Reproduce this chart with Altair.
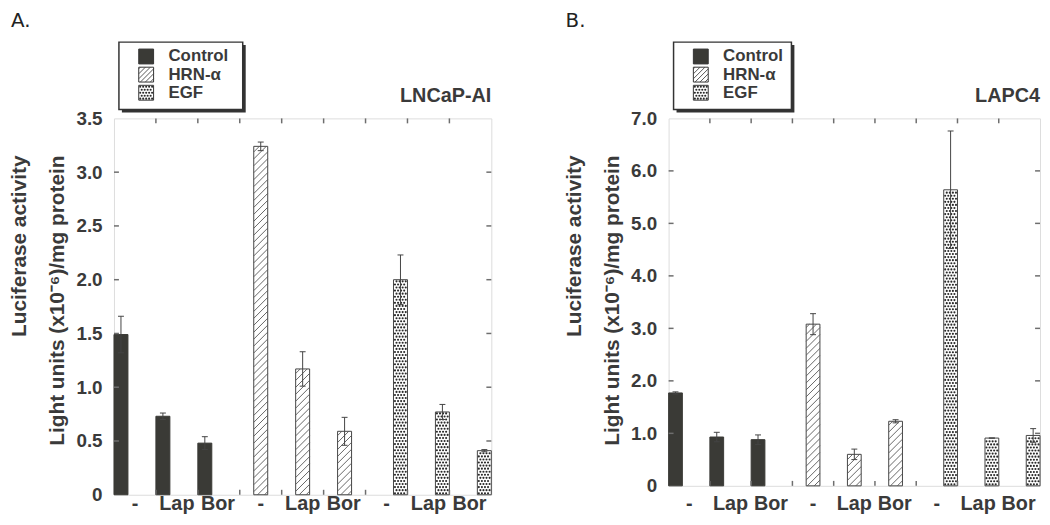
import altair as alt
import numpy as np
import pandas as pd

# ---------------- data ----------------
treatments = ["-", "Lap", "Bor"]
stimuli = ["Control", "HRN-α", "EGF"]

a_control = [1.49, 0.73, 0.48]
a_control_err = [0.17, 0.03, 0.06]
a_hrn = [3.24, 1.17, 0.59]
a_hrn_err = [0.04, 0.16, 0.13]
a_egf = [2.00, 0.77, 0.41]
a_egf_err = [0.23, 0.07, 0.01]

b_control = [1.77, 0.93, 0.88]
b_control_err = [0.02, 0.09, 0.09]
b_hrn = [3.08, 0.60, 1.23]
b_hrn_err = [0.20, 0.10, 0.03]
b_egf = [5.64, 0.91, 0.96]
b_egf_err = [1.12, 0.00, 0.13]

a_yticks = [0, 0.5, 1.0, 1.5, 2.0, 2.5, 3.0, 3.5]
b_yticks = [0, 1, 2, 3, 4, 5, 6, 7]

y_title = ["Luciferase activity", "Light units (x10\u207b\u2076)/mg protein"]

DARK = "#3a3a36"
TEXT = "#3a3a3a"
FRAME = "#6e6e6e"
FONT = "Liberation Sans"


def hatch_px(L, R, T, B, step):
    segs = []
    k = np.floor((L + T) / step) * step
    while k <= R + B:
        p0 = max(L, k - B)
        p1 = min(R, k - T)
        if p1 > p0 + 0.3:
            segs.append((p0, k - p0, p1, k - p1))
        k += step
    return segs


def dots_px(L, R, T, B, step):
    pts = []
    py = B - step / 2
    i = 0
    while py > T + 0.8:
        px = L + 1.5 + (step / 2 if i % 2 else 0)
        while px < R - 0.8:
            pts.append((px, py))
            px += step
        py -= step
        i += 1
    return pts


def make_panel(letter, cell, vals, errs, ymax, yticks, W, H, label_dy, legend_w):
    xs = W / 9.0
    ys = H / ymax
    rows = []
    for g, (stim, v, e) in enumerate(zip(stimuli, vals, errs)):
        for t, tr in enumerate(treatments):
            left = t + g * 10 / 3
            rows.append(dict(stim=stim, treat=tr, x0=left, x1=left + 1 / 3,
                             xc=left + 1 / 6, v=v[t],
                             lo=max(v[t] - e[t], 0), hi=v[t] + e[t]))
    bars = pd.DataFrame(rows)

    hatch, dots = [], []
    for r in rows:
        L, R = r["x0"] * xs, r["x1"] * xs
        T, B = H - r["v"] * ys, H
        if r["stim"] == stimuli[1]:
            for (x0, y0, x1, y1) in hatch_px(L, R, T, B, 7):
                hatch.append(dict(x=x0 / xs, y=(H - y0) / ys, x2=x1 / xs, y2=(H - y1) / ys))
        elif r["stim"] == stimuli[2]:
            for (px, py) in dots_px(L, R, T, B, 3.1):
                dots.append(dict(x=px / xs, y=(H - py) / ys))

    xsc = alt.Scale(domain=[0, 9], nice=False, zero=False)
    ysc = alt.Scale(domain=[0, ymax], nice=False, zero=False)

    yaxis = alt.Axis(
        values=yticks,
        labelExpr="datum.value == 0 ? '0' : format(datum.value, '.1f')",
        ticks=False, domain=False, grid=False,
        labelFont=FONT, labelFontSize=19, labelFontWeight="bold", labelColor=TEXT,
        labelPadding=12, labelOverlap=False,
        title=y_title, titleFont=FONT, titleFontSize=21, titleFontWeight="bold",
        titleColor=TEXT, titleAngle=270, titleAlign="right", titleBaseline="middle",
        titleX=-95, titleY=37, titleLineHeight=38,
    )

    def Y(field):
        return alt.Y(field, scale=ysc, axis=yaxis)

    bar_layer = alt.Chart(bars).mark_rect(strokeWidth=1).encode(
        x=alt.X("x0:Q", scale=xsc, axis=None),
        x2="x1",
        y=Y("v:Q"),
        y2=alt.datum(0),
        fill=alt.Fill("stim:N", scale=alt.Scale(domain=stimuli, range=[DARK, "white", "white"]), legend=None),
        stroke=alt.Stroke("stim:N", scale=alt.Scale(domain=stimuli, range=[DARK, "#444444", "#444444"]), legend=None),
    )

    hatch_layer = alt.Chart(pd.DataFrame(hatch)).mark_rule(color="#555555", strokeWidth=0.9).encode(
        x=alt.X("x:Q", scale=xsc, axis=None), y=Y("y:Q"),
        x2="x2", y2="y2")

    dot_layer = alt.Chart(pd.DataFrame(dots)).mark_circle(size=4.6, color="#2a2a2a", opacity=1).encode(
        x=alt.X("x:Q", scale=xsc, axis=None), y=Y("y:Q"))

    err_layer = alt.Chart(bars).mark_rule(color="#444444", strokeWidth=1).encode(
        x=alt.X("xc:Q", scale=xsc, axis=None), y=Y("lo:Q"), y2="hi")
    caps = pd.concat([bars[["xc", "lo"]].rename(columns={"lo": "e"}),
                      bars[["xc", "hi"]].rename(columns={"hi": "e"})])
    cap_layer = alt.Chart(caps).mark_tick(orient="horizontal", size=6, thickness=1, color="#444444", opacity=1).encode(
        x=alt.X("xc:Q", scale=xsc, axis=None), y=Y("e:Q"))

    ytk = pd.DataFrame({"v": yticks[1:-1]})
    xtk = pd.DataFrame({"v": list(range(1, 9))})
    tick_style = dict(color=FRAME, strokeWidth=1.5)
    left_ticks = alt.Chart(ytk).mark_rule(**tick_style).encode(
        x=alt.value(0), x2=alt.value(5), y=Y("v:Q"))
    right_ticks = alt.Chart(ytk).mark_rule(**tick_style).encode(
        x=alt.value(W - 5), x2=alt.value(W), y=Y("v:Q"))
    top_ticks = alt.Chart(xtk).mark_rule(**tick_style).encode(
        x=alt.X("v:Q", scale=xsc, axis=None), y=alt.value(0), y2=alt.value(5))
    bottom_ticks = alt.Chart(xtk).mark_rule(**tick_style).encode(
        x=alt.X("v:Q", scale=xsc, axis=None), y=alt.value(H - 5), y2=alt.value(H))

    lab = pd.DataFrame([dict(t=tr, x=g * 3 + t + 0.5 - (0.02 if tr == "Bor" else 0))
                        for g in range(3) for t, tr in enumerate(treatments)])
    label_layer = alt.Chart(lab).mark_text(font=FONT, fontSize=20, fontWeight="bold", color=TEXT,
                                           baseline="middle").encode(
        x=alt.X("x:Q", scale=xsc, axis=None), y=alt.value(H + label_dy), text="t:N")

    # legend drawn as marks in pixel space above the plot
    one = pd.DataFrame({"a": [0]})
    lx0, ly0, ly1 = 5, -77, -9
    shadow = alt.Chart(one).mark_rect(color="#333333").encode(
        x=alt.value(lx0 + 3), x2=alt.value(lx0 + legend_w + 3), y=alt.value(ly0 + 3), y2=alt.value(ly1 + 3))
    box = alt.Chart(one).mark_rect(fill="white", stroke="#333333", strokeWidth=1.5).encode(
        x=alt.value(lx0), x2=alt.value(lx0 + legend_w), y=alt.value(ly0), y2=alt.value(ly1))
    centers = [-62.5 + i * 18.3 for i in range(3)]
    sw = pd.DataFrame(dict(stim=stimuli, x=[25] * 3, x2=[40] * 3,
                           y=[c - 7.5 for c in centers], y2=[c + 7.5 for c in centers],
                           fill=[DARK, "white", "white"], tx=[55] * 3, ty=centers))
    swatch = alt.Chart(sw).mark_rect(stroke="#333333", strokeWidth=1).encode(
        x=alt.X("x:Q", scale=None), x2="x2", y=alt.Y("y:Q", scale=None), y2="y2",
        fill=alt.Fill("fill:N", scale=None))
    lh = [dict(x=a, y=b, x2=c, y2=d) for (a, b, c, d) in
          hatch_px(25, 40, centers[1] - 7.5, centers[1] + 7.5, 5)]
    leg_hatch = alt.Chart(pd.DataFrame(lh)).mark_rule(color="#444444", strokeWidth=0.9).encode(
        x=alt.X("x:Q", scale=None), y=alt.Y("y:Q", scale=None), x2="x2", y2="y2")
    ld = [dict(x=a, y=b) for (a, b) in dots_px(25, 40, centers[2] - 7.5, centers[2] + 7.5, 3.0)]
    leg_dots = alt.Chart(pd.DataFrame(ld)).mark_circle(size=4.6, color="#2a2a2a", opacity=1).encode(
        x=alt.X("x:Q", scale=None), y=alt.Y("y:Q", scale=None))
    leg_text = alt.Chart(sw).mark_text(font=FONT, fontSize=17, fontWeight="bold", color=TEXT,
                                       align="left", baseline="middle").encode(
        x=alt.X("tx:Q", scale=None), y=alt.Y("ty:Q", scale=None), text="stim:N")

    cell_text = alt.Chart(pd.DataFrame({"t": [cell]})).mark_text(
        font=FONT, fontSize=20, fontWeight="bold", color=TEXT, align="right", baseline="alphabetic").encode(
        x=alt.value(W), y=alt.value(-17), text="t:N")
    letter_text = alt.Chart(pd.DataFrame({"t": [letter]})).mark_text(
        font="DejaVu Sans", fontSize=20, color="#222222", align="left", baseline="alphabetic").encode(
        x=alt.value(-104), y=alt.value(-92), text="t:N")

    return alt.layer(
        bar_layer, hatch_layer, dot_layer, err_layer, cap_layer,
        left_ticks, right_ticks, top_ticks, bottom_ticks, label_layer,
        shadow, box, swatch, leg_hatch, leg_dots, leg_text, cell_text, letter_text,
    ).properties(width=W, height=H)


panel_a = make_panel("A.", "LNCaP-AI",
                     [a_control, a_hrn, a_egf], [a_control_err, a_hrn_err, a_egf_err],
                     3.5, a_yticks, 381, 380, 9, 125)
panel_b = make_panel("B.", "LAPC4",
                     [b_control, b_hrn, b_egf], [b_control_err, b_hrn_err, b_egf_err],
                     7.0, b_yticks, 375, 371, 18, 119)

chart = alt.hconcat(panel_a, panel_b, spacing=70).properties(
    padding=0, background="white"
).configure_view(stroke=FRAME, strokeWidth=1.5).configure(font=FONT)

chart.save("out.html", embed_options={"renderer": "svg", "actions": False})
